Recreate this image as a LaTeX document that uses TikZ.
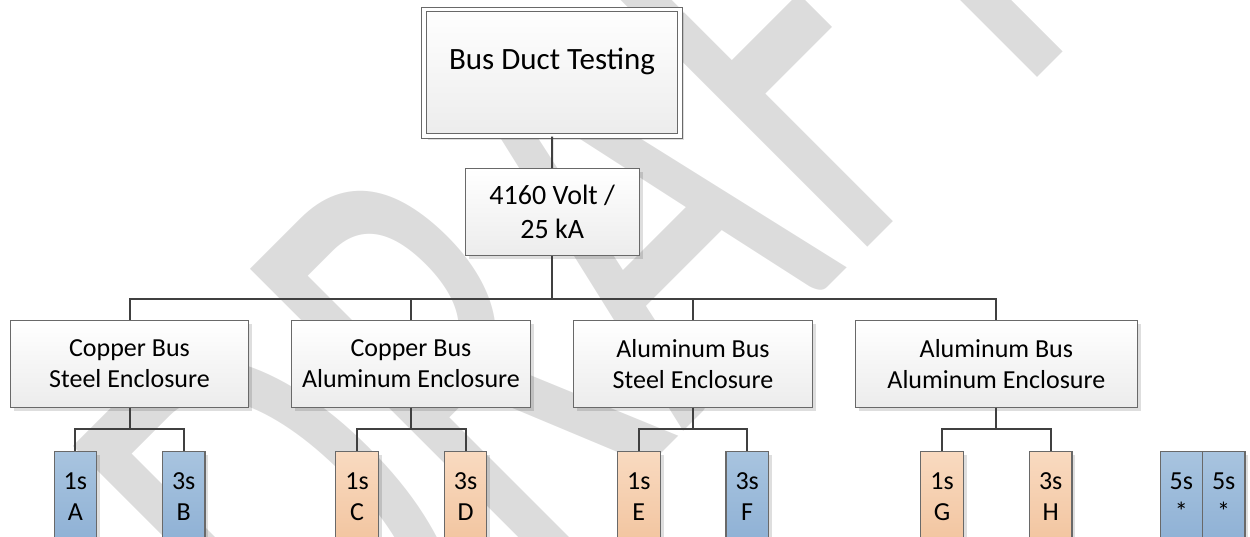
\documentclass[tikz,border=0pt]{standalone}
\usepackage{fontspec}
\setmainfont{Carlito}
\usepackage{graphicx}
\usetikzlibrary{shadows,calc}
\definecolor{wm}{RGB}{220,220,220}
\definecolor{connc}{RGB}{64,64,64}
\definecolor{bord}{RGB}{105,105,105}
\definecolor{bluetop}{RGB}{168,196,223}
\definecolor{bluebot}{RGB}{143,177,213}
\definecolor{orgtop}{RGB}{249,218,192}
\definecolor{orgbot}{RGB}{242,197,160}
\definecolor{greybot}{RGB}{236,236,236}
\tikzset{
  shad/.style={drop shadow={shadow xshift=3.5pt, shadow yshift=-3.5pt, fill=black, opacity=0.13}},
  boxbase/.style={draw=bord, line width=1.1pt, inner sep=0pt, align=center, shad},
  topbox/.style={boxbase, double=white, double distance=3.2pt, top color=white, bottom color=greybot,
                 minimum width=256pt, minimum height=126.5pt},
  voltbox/.style={boxbase, top color=white, bottom color=greybot, minimum width=174pt, minimum height=87pt,
                 font=\fontsize{28}{34}\selectfont},
  catbox/.style={boxbase, top color=white, bottom color=greybot, minimum width=238.3pt, minimum height=86.3pt,
                 font=\fontsize{26}{31}\selectfont},
  widecat/.style={catbox, minimum width=281.6pt},
  leaf/.style={boxbase, anchor=north, minimum width=42.5pt, minimum height=90pt,
               font=\fontsize{26}{31}\selectfont},
  blueleaf/.style={leaf, top color=bluetop, bottom color=bluebot},
  orgleaf/.style={leaf, top color=orgtop, bottom color=orgbot},
  conn/.style={draw=connc, line width=2pt},
}
\begin{document}
\begin{tikzpicture}[x=1pt, y=-1pt]
\useasboundingbox (0,0) rectangle (1250,537);
% watermark
\node[anchor=base west, rotate=45, inner sep=0pt, text=wm] (wmark) at (351,764)
  {\scalebox{1}[1.62]{\fontsize{405}{405}\selectfont DRAFT}};
% coordinates of the buses
\coordinate (bus) at (0,299);
\coordinate (sub) at (0,429);
% nodes
\node[topbox] (top) at (552,72.8) {};
\node[anchor=base, inner sep=0pt] (toptext) at (552,70) {\fontsize{31}{37}\selectfont Bus Duct Testing};
\node[voltbox] (volt) at (552.2,212.2) {4160 Volt /\\25 kA};
\node[catbox] (cs) at (129.5,363.9) {Copper Bus\\Steel Enclosure};
\node[catbox] (ca) at (411,363.9) {Copper Bus\\Aluminum Enclosure};
\node[catbox] (as) at (693,363.9) {Aluminum Bus\\Steel Enclosure};
\node[widecat] (aa) at (996.4,363.9) {Aluminum Bus\\Aluminum Enclosure};
\node[blueleaf] (A) at (75.3,451) {1s\\A};
\node[blueleaf] (B) at (183.7,451) {3s\\B};
\node[orgleaf] (C) at (357,451) {1s\\C};
\node[orgleaf] (D) at (465.5,451) {3s\\D};
\node[orgleaf] (E) at (638.8,451) {1s\\E};
\node[blueleaf] (F) at (747.2,451) {3s\\F};
\node[orgleaf] (G) at (942,451) {1s\\G};
\node[orgleaf] (H) at (1050.7,451) {3s\\H};
\node[blueleaf] (S1) at (1181.3,451) {5s\\*};
\node[blueleaf] (S2) at (1223.7,451) {5s\\*};
% connectors
\draw[conn] (top.south) -- (volt.north);
\foreach \c in {cs,ca,as,aa}
  \draw[conn] (volt.south) -- (volt.south |- bus) -| (\c.north);
\foreach \p/\a/\b in {cs/A/B, ca/C/D, as/E/F, aa/G/H}{
  \draw[conn] (\p.south) -- (\p.south |- sub) -| (\a.north);
  \draw[conn] (\p.south) -- (\p.south |- sub) -| (\b.north);
}
\end{tikzpicture}
\end{document}
